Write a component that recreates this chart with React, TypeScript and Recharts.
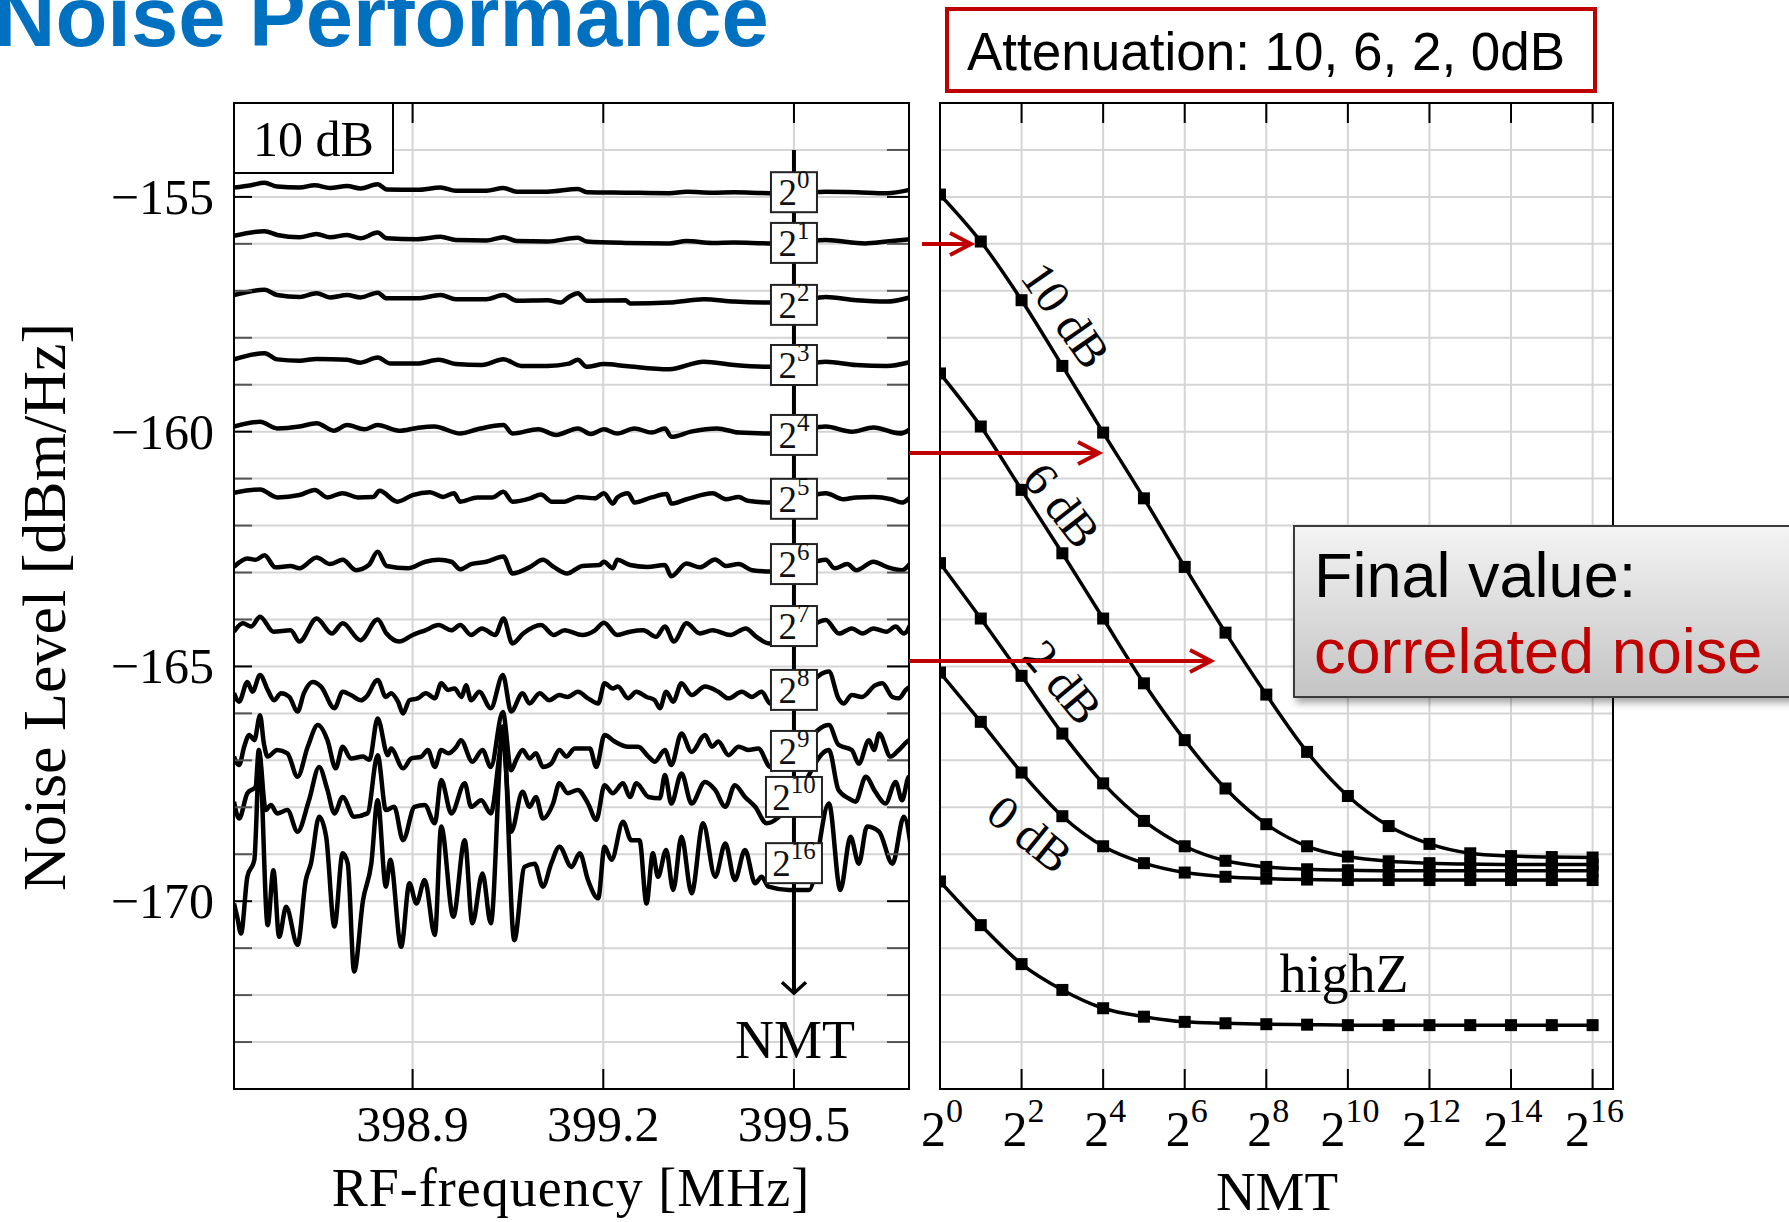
import React from "react";
import { LineChart, Line, XAxis, YAxis, CartesianGrid, ReferenceLine, ReferenceDot } from "recharts";

// shared y axis: noise level in dBm/Hz
const DB_DOMAIN: [number, number] = [-174, -153];
const DB_TICKS = [-174, -173, -172, -171, -170, -169, -168, -167, -166, -165, -164, -163, -162, -161, -160, -159, -158, -157, -156, -155, -154, -153];

// left panel: spectra for NMT = 2^0 ... 2^16 (10 dB attenuation)
const FREQ_DOMAIN: [number, number] = [398.619, 399.681];
const FREQ_TICKS = [398.9, 399.2, 399.5];

type Pt = [number, number];

const TRACE_E0: Pt[] = [
  [398.619, -154.80], [398.646, -154.75], [398.667, -154.70], [398.687, -154.78], [398.722, -154.80], [398.746, -154.75],
  [398.770, -154.81], [398.797, -154.77], [398.818, -154.82], [398.845, -154.73], [398.859, -154.84], [398.907, -154.85],
  [398.944, -154.80], [398.968, -154.87], [399.016, -154.87], [399.043, -154.81], [399.064, -154.89], [399.112, -154.89],
  [399.160, -154.83], [399.174, -154.90], [399.235, -154.91], [399.304, -154.92], [399.331, -154.89], [399.372, -154.91],
  [399.406, -154.90], [399.461, -154.92], [399.509, -154.91], [399.550, -154.89], [399.598, -154.90], [399.646, -154.92],
  [399.685, -154.84],
];
const TRACE_E1: Pt[] = [
  [398.619, -155.83], [398.667, -155.73], [398.687, -155.81], [398.722, -155.86], [398.749, -155.79], [398.770, -155.86],
  [398.797, -155.81], [398.818, -155.88], [398.845, -155.76], [398.859, -155.88], [398.907, -155.90], [398.944, -155.85],
  [398.968, -155.92], [399.016, -155.93], [399.043, -155.86], [399.064, -155.94], [399.112, -155.95], [399.160, -155.87],
  [399.174, -155.95], [399.235, -155.98], [399.304, -155.99], [399.331, -155.94], [399.372, -155.98], [399.406, -155.97],
  [399.461, -155.99], [399.509, -155.97], [399.550, -155.92], [399.612, -155.99], [399.646, -155.95], [399.685, -155.90],
];
const TRACE_E2: Pt[] = [
  [398.619, -157.09], [398.667, -156.98], [398.687, -157.09], [398.722, -157.13], [398.749, -157.05], [398.770, -157.14],
  [398.797, -157.09], [398.818, -157.14], [398.845, -157.04], [398.859, -157.16], [398.907, -157.16], [398.944, -157.09],
  [398.968, -157.18], [399.016, -157.18], [399.043, -157.09], [399.064, -157.21], [399.112, -157.20], [399.133, -157.25],
  [399.146, -157.13], [399.160, -157.05], [399.174, -157.21], [399.235, -157.20], [399.242, -157.27], [399.304, -157.25],
  [399.358, -157.18], [399.406, -157.23], [399.461, -157.25], [399.509, -157.22], [399.550, -157.13], [399.598, -157.20],
  [399.646, -157.23], [399.685, -157.13],
];
const TRACE_E3: Pt[] = [
  [398.619, -158.46], [398.667, -158.33], [398.687, -158.46], [398.722, -158.49], [398.749, -158.45], [398.797, -158.47],
  [398.818, -158.53], [398.845, -158.42], [398.865, -158.55], [398.907, -158.55], [398.941, -158.47], [398.968, -158.56],
  [399.009, -158.58], [399.043, -158.46], [399.071, -158.60], [399.112, -158.60], [399.146, -158.55], [399.160, -158.47],
  [399.174, -158.62], [399.201, -158.56], [399.235, -158.60], [399.304, -158.67], [399.358, -158.51], [399.406, -158.58],
  [399.461, -158.62], [399.509, -158.58], [399.550, -158.51], [399.598, -158.58], [399.646, -158.60], [399.685, -158.51],
];
const TRACE_E4: Pt[] = [
  [398.619, -159.89], [398.660, -159.79], [398.687, -159.93], [398.722, -159.89], [398.749, -159.82], [398.776, -159.98],
  [398.797, -159.86], [398.824, -159.95], [398.845, -159.86], [398.879, -159.98], [398.907, -159.92], [398.934, -159.89],
  [398.975, -160.04], [399.002, -159.95], [399.043, -159.86], [399.057, -160.04], [399.098, -159.95], [399.126, -160.07],
  [399.160, -159.93], [399.180, -160.05], [399.201, -159.95], [399.222, -160.04], [399.249, -159.93], [399.276, -160.02],
  [399.297, -159.93], [399.307, -160.11], [399.338, -160.00], [399.379, -159.93], [399.413, -160.02], [399.461, -160.04],
  [399.509, -159.98], [399.550, -159.89], [399.591, -160.00], [399.625, -159.91], [399.667, -160.04], [399.685, -159.93],
];
const TRACE_E5: Pt[] = [
  [398.619, -161.30], [398.660, -161.23], [398.687, -161.40], [398.722, -161.35], [398.746, -161.24], [398.766, -161.40],
  [398.790, -161.31], [398.814, -161.40], [398.838, -161.39], [398.848, -161.26], [398.876, -161.49], [398.900, -161.35],
  [398.927, -161.29], [398.948, -161.39], [398.965, -161.31], [398.975, -161.49], [399.002, -161.40], [399.026, -161.40],
  [399.043, -161.28], [399.057, -161.49], [399.085, -161.42], [399.102, -161.34], [399.119, -161.49], [399.139, -161.49],
  [399.160, -161.39], [399.187, -161.42], [399.201, -161.31], [399.215, -161.53], [399.222, -161.40], [399.239, -161.31],
  [399.249, -161.51], [399.276, -161.40], [399.300, -161.33], [399.307, -161.53], [399.331, -161.44], [399.372, -161.31],
  [399.393, -161.44], [399.413, -161.39], [399.427, -161.47], [399.465, -161.51], [399.509, -161.42], [399.550, -161.31],
  [399.578, -161.44], [399.598, -161.40], [399.625, -161.39], [399.653, -161.44], [399.670, -161.51], [399.685, -161.37],
];
const TRACE_E6: Pt[] = [
  [398.619, -162.88], [398.640, -162.70], [398.653, -162.73], [398.667, -162.63], [398.684, -162.89], [398.708, -162.86],
  [398.722, -162.91], [398.749, -162.68], [398.770, -162.82], [398.790, -162.73], [398.811, -162.95], [398.831, -162.84],
  [398.845, -162.56], [398.859, -162.86], [398.893, -162.91], [398.920, -162.77], [398.941, -162.73], [398.961, -162.77],
  [398.975, -162.93], [398.992, -162.82], [399.016, -162.77], [399.043, -162.66], [399.057, -163.02], [399.085, -162.88],
  [399.105, -162.73], [399.122, -162.88], [399.143, -163.02], [399.167, -162.86], [399.194, -162.84], [399.201, -162.77],
  [399.215, -162.91], [399.222, -162.73], [399.242, -162.84], [399.269, -162.88], [399.297, -162.84], [399.307, -163.08],
  [399.331, -162.81], [399.352, -162.89], [399.376, -162.72], [399.393, -162.86], [399.413, -162.82], [399.434, -162.95],
  [399.465, -162.98], [399.509, -162.88], [399.550, -162.73], [399.564, -162.91], [399.584, -162.82], [399.598, -162.95],
  [399.625, -162.77], [399.646, -162.88], [399.670, -162.95], [399.685, -162.77],
];
const TRACE_E7: Pt[] = [
  [398.619, -164.26], [398.633, -164.08], [398.646, -164.15], [398.660, -163.94], [398.681, -164.26], [398.708, -164.23],
  [398.722, -164.47], [398.749, -163.98], [398.773, -164.30], [398.790, -164.08], [398.818, -164.44], [398.845, -164.00],
  [398.859, -164.30], [398.879, -164.47], [398.900, -164.33], [398.920, -164.23], [398.941, -164.12], [398.961, -164.23],
  [398.975, -164.12], [398.992, -164.33], [399.009, -164.19], [399.030, -164.33], [399.043, -163.98], [399.057, -164.51],
  [399.074, -164.30], [399.102, -164.12], [399.122, -164.33], [399.139, -164.23], [399.167, -164.33], [399.187, -164.23],
  [399.201, -164.07], [399.222, -164.33], [399.242, -164.26], [399.263, -164.23], [399.283, -164.37], [399.297, -164.15],
  [399.311, -164.47], [399.331, -164.08], [399.352, -164.30], [399.372, -164.23], [399.400, -164.33], [399.424, -164.19],
  [399.441, -164.37], [399.461, -164.51], [399.509, -164.30], [399.550, -164.01], [399.571, -164.30], [399.591, -164.19],
  [399.608, -164.30], [399.625, -164.19], [399.646, -164.26], [399.660, -164.15], [399.673, -164.30], [399.685, -164.05],
];
const TRACE_E8: Pt[] = [
  [398.619, -165.57], [398.627, -165.75], [398.640, -165.33], [398.648, -165.54], [398.660, -165.18], [398.672, -165.50],
  [398.682, -165.72], [398.693, -165.57], [398.706, -165.65], [398.719, -165.96], [398.729, -165.57], [398.743, -165.33],
  [398.756, -165.43], [398.777, -165.89], [398.790, -165.54], [398.803, -165.61], [398.819, -165.72], [398.827, -165.65],
  [398.845, -165.29], [398.858, -165.65], [398.866, -165.57], [398.877, -165.75], [398.885, -166.00], [398.895, -165.72],
  [398.908, -165.68], [398.921, -165.57], [398.935, -165.68], [398.945, -165.36], [398.956, -165.50], [398.966, -165.47],
  [398.977, -165.65], [398.984, -165.40], [398.992, -165.72], [399.005, -165.54], [399.023, -165.89], [399.042, -165.18],
  [399.055, -165.96], [399.073, -165.57], [399.084, -165.79], [399.100, -165.57], [399.115, -165.72], [399.131, -165.61],
  [399.144, -165.65], [399.160, -165.54], [399.176, -165.68], [399.192, -165.79], [399.202, -165.36], [399.215, -165.47],
  [399.223, -165.43], [399.239, -165.68], [399.252, -165.54], [399.268, -165.65], [399.281, -165.72], [399.289, -165.89],
  [399.299, -165.54], [399.310, -165.75], [399.323, -165.36], [399.339, -165.61], [399.360, -165.43], [399.381, -165.54],
  [399.397, -165.68], [399.418, -165.54], [399.434, -165.65], [399.449, -165.54], [399.463, -165.79], [399.500, -165.65],
  [399.555, -165.11], [399.570, -165.68], [399.578, -165.79], [399.591, -165.61], [399.607, -165.65], [399.628, -165.40],
  [399.639, -165.36], [399.655, -165.65], [399.665, -165.68], [399.676, -165.50], [399.686, -165.40],
];
const TRACE_E9: Pt[] = [
  [398.619, -166.92], [398.627, -167.10], [398.635, -166.71], [398.643, -166.46], [398.651, -166.57], [398.660, -166.04],
  [398.666, -166.64], [398.672, -166.92], [398.687, -166.78], [398.703, -166.85], [398.719, -167.35], [398.735, -166.71],
  [398.751, -166.25], [398.766, -166.57], [398.779, -167.17], [398.790, -166.71], [398.803, -166.96], [398.822, -166.92],
  [398.832, -166.99], [398.845, -166.11], [398.861, -166.89], [398.866, -166.75], [398.885, -167.17], [398.898, -166.96],
  [398.914, -166.92], [398.924, -166.78], [398.935, -167.14], [398.945, -166.78], [398.956, -166.85], [398.969, -166.71],
  [398.976, -166.57], [398.994, -167.03], [399.010, -166.78], [399.023, -167.14], [399.042, -165.97], [399.055, -167.21],
  [399.063, -166.99], [399.073, -166.78], [399.084, -166.96], [399.094, -166.85], [399.105, -167.14], [399.118, -167.07],
  [399.131, -166.78], [399.142, -166.92], [399.155, -166.75], [399.179, -166.75], [399.189, -167.14], [399.202, -166.46],
  [399.218, -166.60], [399.239, -166.71], [399.255, -166.71], [399.271, -166.92], [399.281, -167.03], [399.297, -166.78],
  [399.307, -167.10], [399.323, -166.43], [399.339, -166.82], [399.360, -166.46], [399.371, -166.71], [399.381, -166.60],
  [399.397, -166.89], [399.413, -166.71], [399.428, -166.78], [399.444, -166.75], [399.463, -167.14], [399.500, -166.85],
  [399.555, -166.25], [399.570, -166.67], [399.591, -166.78], [399.602, -167.07], [399.618, -166.57], [399.626, -166.78],
  [399.634, -166.43], [399.652, -166.92], [399.665, -166.78], [399.678, -166.60], [399.686, -166.53],
];
const TRACE_E10: Pt[] = [
  [398.619, -167.88], [398.627, -168.24], [398.640, -167.70], [398.653, -167.56], [398.658, -166.78], [398.669, -168.06],
  [398.677, -167.95], [398.687, -168.13], [398.703, -168.06], [398.719, -168.52], [398.737, -167.85], [398.753, -167.14],
  [398.766, -167.63], [398.777, -168.13], [398.790, -167.78], [398.808, -168.20], [398.829, -168.13], [398.845, -166.89],
  [398.858, -168.06], [398.871, -167.99], [398.885, -168.70], [398.903, -167.99], [398.919, -167.95], [398.935, -168.34],
  [398.945, -167.42], [398.961, -168.13], [398.982, -167.49], [398.992, -167.99], [399.008, -167.85], [399.023, -168.13],
  [399.042, -166.57], [399.055, -168.52], [399.073, -167.67], [399.084, -167.99], [399.094, -167.78], [399.105, -168.24],
  [399.121, -167.92], [399.131, -167.49], [399.144, -167.70], [399.160, -167.63], [399.176, -167.92], [399.189, -168.27],
  [399.202, -167.53], [399.215, -167.70], [399.231, -167.49], [399.242, -167.78], [399.252, -167.49], [399.271, -167.78],
  [399.289, -167.81], [399.297, -167.31], [399.307, -167.92], [399.323, -167.28], [399.339, -167.92], [399.360, -167.46],
  [399.376, -167.63], [399.392, -167.99], [399.407, -167.53], [399.423, -167.78], [399.439, -167.99], [399.457, -168.34],
  [399.500, -167.85], [399.555, -166.78], [399.570, -167.63], [399.586, -167.81], [399.597, -167.88], [399.613, -167.35],
  [399.628, -167.67], [399.644, -167.92], [399.660, -167.46], [399.670, -167.85], [399.681, -167.35], [399.686, -167.56],
];
const TRACE_E16: Pt[] = [
  [398.619, -170.05], [398.624, -170.33], [398.630, -170.69], [398.640, -169.48], [398.651, -169.12], [398.659, -166.92],
  [398.672, -170.51], [398.681, -169.34], [398.690, -170.76], [398.701, -170.12], [398.719, -170.93], [398.732, -169.55],
  [398.740, -169.20], [398.753, -168.20], [398.764, -168.63], [398.777, -170.54], [398.790, -168.98], [398.798, -169.20],
  [398.808, -171.50], [398.822, -169.98], [398.835, -169.20], [398.845, -167.85], [398.858, -169.69], [398.865, -169.12],
  [398.882, -170.97], [398.895, -169.62], [398.906, -170.05], [398.919, -169.55], [398.935, -170.72], [398.945, -168.41],
  [398.964, -170.33], [398.982, -168.70], [398.994, -170.47], [399.010, -169.41], [399.023, -170.47], [399.042, -166.28],
  [399.060, -170.83], [399.076, -169.27], [399.092, -169.20], [399.105, -169.69], [399.118, -169.20], [399.131, -168.84],
  [399.150, -169.27], [399.163, -168.98], [399.176, -169.55], [399.192, -169.94], [399.202, -168.84], [399.213, -169.12],
  [399.231, -168.31], [399.244, -168.70], [399.257, -168.70], [399.268, -170.05], [399.278, -168.98], [399.286, -169.48],
  [399.299, -168.91], [399.310, -169.76], [399.323, -168.63], [399.339, -169.83], [399.357, -168.34], [399.376, -169.48],
  [399.392, -168.77], [399.407, -169.55], [399.423, -168.91], [399.439, -169.62], [399.449, -169.48], [399.460, -169.69],
  [399.492, -169.76], [399.524, -169.76], [399.555, -167.92], [399.573, -169.76], [399.589, -168.63], [399.602, -169.20],
  [399.615, -168.41], [399.634, -168.52], [399.655, -169.20], [399.673, -168.20], [399.686, -169.05],
];

const TRACES = [TRACE_E0, TRACE_E1, TRACE_E2, TRACE_E3, TRACE_E4, TRACE_E5, TRACE_E6, TRACE_E7, TRACE_E8, TRACE_E9, TRACE_E10, TRACE_E16];

// NMT label boxes on the 399.5 MHz marker line
const BOX_FREQ = 399.5;
const BOX_EXP = [0, 1, 2, 3, 4, 5, 6, 7, 8, 9, 10, 16];
const BOX_DB = [-154.9, -155.98, -157.3, -158.58, -160.07, -161.43, -162.82, -164.14, -165.5, -166.8, -167.78, -169.19];
const NMT_LINE_DB: [number, number] = [-154.0, -171.96];

// right panel: final noise level vs NMT (log2)
const NMT_EXP = [0, 1, 2, 3, 4, 5, 6, 7, 8, 9, 10, 11, 12, 13, 14, 15, 16];
const EXP_TICKS = [0, 2, 4, 6, 8, 10, 12, 14, 16];
const EXP_DOMAIN: [number, number] = [0, 16.5];
const ATT_10DB = [-154.95, -155.95, -157.2, -158.6, -160.02, -161.42, -162.88, -164.28, -165.6, -166.82, -167.76, -168.4, -168.78, -168.98, -169.04, -169.06, -169.07];
const ATT_6DB = [-158.76, -159.89, -161.24, -162.59, -163.98, -165.36, -166.57, -167.6, -168.36, -168.83, -169.05, -169.15, -169.19, -169.21, -169.22, -169.22, -169.22];
const ATT_2DB = [-162.8, -163.98, -165.2, -166.43, -167.49, -168.29, -168.83, -169.14, -169.27, -169.32, -169.34, -169.35, -169.35, -169.35, -169.35, -169.35, -169.35];
const ATT_0DB = [-165.13, -166.18, -167.26, -168.19, -168.83, -169.19, -169.39, -169.48, -169.52, -169.54, -169.55, -169.55, -169.55, -169.55, -169.55, -169.55, -169.55];
const HIGHZ = [-169.58, -170.51, -171.34, -171.89, -172.28, -172.46, -172.57, -172.6, -172.62, -172.63, -172.64, -172.64, -172.64, -172.64, -172.64, -172.64, -172.64];

const SERIES_KEYS = ["a10", "a6", "a2", "a0", "hz"];

const rightRows = NMT_EXP.map((e, i) => ({
  e,
  a10: ATT_10DB[i],
  a6: ATT_6DB[i],
  a2: ATT_2DB[i],
  a0: ATT_0DB[i],
  hz: HIGHZ[i],
}));

const traceRows = TRACES.map((t) => t.map(([f, v]) => ({ f, v })));

// layout (page pixels)
const TOP = 103;
const BOTTOM = 1089;
const L_LEFT = 234;
const L_RIGHT = 909;
const R_OFF = 920;
const R_W = 720;
const R_LEFT = 940;
const R_RIGHT = 1613;

const SERIF = "'Liberation Serif', 'Times New Roman', serif";
const SANS = "'Liberation Sans', Arial, sans-serif";
const RED = "#C00000";
const GRID = "#d5d5d5";

function LeftDbTick(props: any) {
  const { y, payload } = props;
  const v = payload.value as number;
  const major = v % 5 === 0;
  return (
    <g>
      <line x1={L_LEFT} x2={L_LEFT + 18} y1={y} y2={y} stroke={major ? "#000" : "#555"} strokeWidth={2} />
      <line x1={L_RIGHT - 22} x2={L_RIGHT} y1={y} y2={y} stroke={major ? "#000" : "#555"} strokeWidth={2} />
      {major && (
        <text x={L_LEFT - 20} y={y} textAnchor="end" dominantBaseline="central" fontFamily={SERIF} fontSize={50} fill="#000">
          {"\u2212" + Math.abs(v)}
        </text>
      )}
    </g>
  );
}

function RightDbTick(props: any) {
  const { y, payload } = props;
  const major = (payload.value as number) % 5 === 0;
  const l = R_LEFT - R_OFF;
  const r = R_RIGHT - R_OFF;
  return (
    <g>
      <line x1={l} x2={l + 22} y1={y} y2={y} stroke={major ? "#000" : "#555"} strokeWidth={2} />
      <line x1={r - 24} x2={r} y1={y} y2={y} stroke={major ? "#000" : "#555"} strokeWidth={2} />
    </g>
  );
}

function FreqTick(props: any) {
  const { x, payload } = props;
  return (
    <g>
      <line x1={x} x2={x} y1={TOP} y2={TOP + 20} stroke="#000" strokeWidth={2} />
      <line x1={x} x2={x} y1={BOTTOM - 20} y2={BOTTOM} stroke="#000" strokeWidth={2} />
      <text x={x} y={1141} textAnchor="middle" fontFamily={SERIF} fontSize={50} fill="#000">
        {payload.value.toFixed(1)}
      </text>
    </g>
  );
}

function ExpTick(props: any) {
  const { x, payload } = props;
  return (
    <g>
      <line x1={x} x2={x} y1={TOP} y2={TOP + 20} stroke="#000" strokeWidth={2} />
      <line x1={x} x2={x} y1={BOTTOM - 20} y2={BOTTOM} stroke="#000" strokeWidth={2} />
      <text x={x + 2} y={1146} textAnchor="middle" fontFamily={SERIF} fill="#000">
        <tspan fontSize={50}>2</tspan>
        <tspan fontSize={34} dy={-24}>{payload.value}</tspan>
      </text>
    </g>
  );
}

function ExpBox(props: any) {
  const { cx, cy, exp } = props;
  const w = exp >= 10 ? 56 : 46;
  return (
    <g>
      <rect x={cx - w / 2} y={cy - 20} width={w} height={40} fill="#fff" stroke="#222" strokeWidth={2} />
      <text x={cx} y={cy + 13} textAnchor="middle" fontFamily={SERIF} fill="#111">
        <tspan fontSize={37}>2</tspan>
        <tspan fontSize={25} dy={-17}>{exp}</tspan>
      </text>
    </g>
  );
}

function ArrowDown(props: any) {
  const { cx, cy } = props;
  return <polyline points={`${cx - 12},${cy - 11} ${cx},${cy} ${cx + 12},${cy - 11}`} fill="none" stroke="#000" strokeWidth={3.5} />;
}

function SquareDot(props: any) {
  const { cx, cy, index, dataKey } = props;
  return <rect key={`${dataKey}-${index}`} x={cx - 6} y={cy - 6} width={12} height={12} fill="#000" />;
}

function RedArrow({ x1, x2, y }: { x1: number; x2: number; y: number }) {
  return (
    <g stroke={RED} strokeWidth={4} fill="none">
      <line x1={x1} x2={x2 - 2} y1={y} y2={y} />
      <polyline points={`${x2 - 21},${y - 11} ${x2},${y} ${x2 - 21},${y + 11}`} strokeLinejoin="miter" />
    </g>
  );
}

export default function App() {
  return (
    <div style={{ position: "absolute", left: 0, top: 0, width: 1789, height: 1222, overflow: "hidden", background: "#fff" }}>
      {/* left panel: spectra */}
      <div style={{ position: "absolute", left: 0, top: 0 }}>
        <LineChart width={930} height={1222} margin={{ top: TOP, right: 930 - L_RIGHT, bottom: 0, left: 0 }}>
          <CartesianGrid stroke={GRID} strokeWidth={2} />
          <XAxis
            type="number"
            dataKey="f"
            domain={FREQ_DOMAIN}
            ticks={FREQ_TICKS}
            allowDataOverflow
            interval={0}
            height={1222 - BOTTOM}
            tick={<FreqTick />}
            tickLine={false}
            axisLine={false}
          />
          <YAxis
            type="number"
            domain={DB_DOMAIN}
            ticks={DB_TICKS}
            allowDataOverflow
            interval={0}
            width={L_LEFT}
            tick={<LeftDbTick />}
            tickLine={false}
            axisLine={false}
          />
          {traceRows.map((rows, i) => (
            <Line
              key={i}
              data={rows}
              dataKey="v"
              type="monotone"
              stroke="#000"
              strokeWidth={4.5}
              strokeLinejoin="round"
              dot={false}
              isAnimationActive={false}
            />
          ))}
          <ReferenceLine
            segment={[{ x: BOX_FREQ, y: NMT_LINE_DB[0] }, { x: BOX_FREQ, y: NMT_LINE_DB[1] }]}
            stroke="#000"
            strokeWidth={4}
            ifOverflow="visible"
          />
          <ReferenceDot x={BOX_FREQ} y={NMT_LINE_DB[1]} r={1} ifOverflow="visible" shape={(p: any) => <ArrowDown cx={p.cx} cy={p.cy} />} />
          {BOX_EXP.map((e, i) => (
            <ReferenceDot
              key={e}
              x={BOX_FREQ}
              y={BOX_DB[i]}
              r={1}
              ifOverflow="visible"
              shape={(p: any) => <ExpBox cx={p.cx} cy={p.cy} exp={e} />}
            />
          ))}
        </LineChart>
      </div>

      {/* right panel: level vs NMT */}
      <div style={{ position: "absolute", left: R_OFF, top: 0 }}>
        <LineChart width={R_W} height={1222} data={rightRows} margin={{ top: TOP, right: R_OFF + R_W - R_RIGHT, bottom: 0, left: R_LEFT - R_OFF }}>
          <CartesianGrid stroke={GRID} strokeWidth={2} />
          <XAxis
            type="number"
            dataKey="e"
            domain={EXP_DOMAIN}
            ticks={EXP_TICKS}
            allowDataOverflow
            interval={0}
            height={1222 - BOTTOM}
            tick={<ExpTick />}
            tickLine={false}
            axisLine={false}
          />
          <YAxis
            type="number"
            domain={DB_DOMAIN}
            ticks={DB_TICKS}
            allowDataOverflow
            interval={0}
            width={0}
            tick={<RightDbTick />}
            tickLine={false}
            axisLine={false}
          />
          {SERIES_KEYS.map((k) => (
            <Line key={k} dataKey={k} type="monotone" stroke="#000" strokeWidth={3.5} dot={<SquareDot />} isAnimationActive={false} />
          ))}
        </LineChart>
      </div>

      {/* frames, titles and annotations */}
      <svg width={1789} height={1222} style={{ position: "absolute", left: 0, top: 0, pointerEvents: "none" }}>
        <rect x={L_LEFT} y={TOP} width={L_RIGHT - L_LEFT} height={BOTTOM - TOP} fill="none" stroke="#000" strokeWidth={2} />
        <rect x={R_LEFT} y={TOP} width={R_RIGHT - R_LEFT} height={BOTTOM - TOP} fill="none" stroke="#000" strokeWidth={2} />

        <text x={-6} y={46} fill="#0070C0" fontFamily={SANS} fontWeight="bold" fontSize={85}>
          Noise Performance
        </text>

        <rect x={L_LEFT} y={TOP} width={159} height={70} fill="#fff" stroke="#000" strokeWidth={2} />
        <text x={253} y={156} fontFamily={SERIF} fontSize={50} fill="#000">10 dB</text>

        <text x={795} y={1058} textAnchor="middle" fontFamily={SERIF} fontSize={54} fill="#000">NMT</text>
        <text x={1344} y={992} textAnchor="middle" fontFamily={SERIF} fontSize={54} fill="#000">highZ</text>

        <text x={1066} y={315} transform="rotate(55 1066 315)" textAnchor="middle" dominantBaseline="central" fontFamily={SERIF} fontSize={48}>10 dB</text>
        <text x={1062} y={505} transform="rotate(52 1062 505)" textAnchor="middle" dominantBaseline="central" fontFamily={SERIF} fontSize={48}>6 dB</text>
        <text x={1063} y={682} transform="rotate(50 1063 682)" textAnchor="middle" dominantBaseline="central" fontFamily={SERIF} fontSize={48}>2 dB</text>
        <text x={1030} y={834} transform="rotate(39 1030 834)" textAnchor="middle" dominantBaseline="central" fontFamily={SERIF} fontSize={48}>0 dB</text>

        <text x={65} y={607} transform="rotate(-90 65 607)" textAnchor="middle" fontFamily={SERIF} fontSize={62} fill="#000">
          Noise Level [dBm/Hz]
        </text>
        <text x={571} y={1206} textAnchor="middle" fontFamily={SERIF} fontSize={54} letterSpacing={1} fill="#000">
          RF-frequency [MHz]
        </text>
        <text x={1277} y={1210} textAnchor="middle" fontFamily={SERIF} fontSize={55} fill="#000">NMT</text>

        <RedArrow x1={922} x2={971} y={244} />
        <RedArrow x1={909} x2={1099} y={453} />
        <RedArrow x1={909} x2={1211} y={661} />
      </svg>

      <div
        style={{
          position: "absolute",
          left: 945,
          top: 7,
          width: 652,
          height: 86,
          boxSizing: "border-box",
          border: `4px solid ${RED}`,
          background: "#fff",
        }}
      >
        <svg width={644} height={78} style={{ position: "absolute", left: 0, top: 0 }}>
          <text x={18} y={59} fontFamily={SANS} fontSize={53} fill="#000">Attenuation: 10, 6, 2, 0dB</text>
        </svg>
      </div>

      <div
        style={{
          position: "absolute",
          left: 1293,
          top: 525,
          width: 540,
          height: 173,
          boxSizing: "border-box",
          border: "2px solid #3a3a3a",
          background: "linear-gradient(#f3f3f3, #c4c4c4)",
          boxShadow: "3px 5px 7px rgba(0,0,0,0.35)",
        }}
      >
        <svg width={536} height={169} style={{ position: "absolute", left: 0, top: 0 }}>
          <text x={19} y={70} fontFamily={SANS} fontSize={63} fill="#000">Final value:</text>
          <text x={19} y={146} fontFamily={SANS} fontSize={63} fill={RED}>correlated noise</text>
        </svg>
      </div>
    </div>
  );
}
